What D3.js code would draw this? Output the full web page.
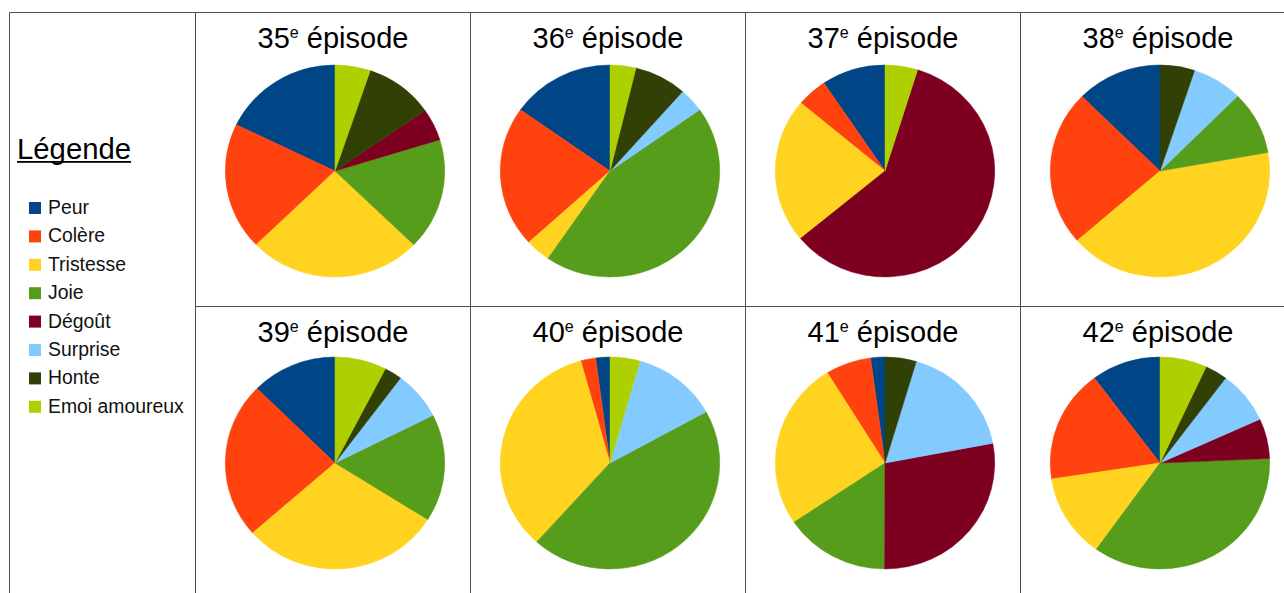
<!DOCTYPE html>
<html>
<head>
<meta charset="utf-8">
<script src="https://cdn.jsdelivr.net/npm/d3@7"></script>
<style>
  html, body { margin: 0; padding: 0; background: #fff; }
  svg { display: block; font-family: "Liberation Sans", Arial, sans-serif; }
</style>
</head>
<body>
<svg id="chart" width="1284" height="593"></svg>
<script>
// emotions, in legend order (slices run counter-clockwise from 12 o'clock in this order)
const emotions = ['Peur', 'Colère', 'Tristesse', 'Joie', 'Dégoût', 'Surprise', 'Honte', 'Emoi amoureux']
const colors = ['#004586', '#ff420e', '#ffd320', '#579d1c', '#7e0021', '#83caff', '#314004', '#aecf00']

const episodes = [35, 36, 37, 38, 39, 40, 41, 42]

// share of each emotion (%) per episode
const ep35 = [17.8, 19.4, 25.5, 17.0, 4.9, 0, 10.1, 5.2]
const ep36 = [15.2, 21.5, 3.7, 44.3, 0, 3.7, 7.7, 3.8]
const ep37 = [9.4, 4.5, 22.1, 0, 59.2, 0, 0, 4.8]
const ep38 = [12.6, 23.8, 41.4, 9.7, 0, 7.4, 5.1, 0]
const ep39 = [12.6, 23.9, 29.6, 16.4, 0, 7.4, 2.6, 7.6]
const ep40 = [2.1, 2.2, 34.1, 44.7, 0, 12.6, 0, 4.4]
const ep41 = [2.1, 6.7, 25.6, 15.5, 28.0, 17.4, 4.6, 0]
const ep42 = [10.2, 17.2, 12.7, 35.5, 6.1, 8.0, 3.3, 6.9]

const series = [ep35, ep36, ep37, ep38, ep39, ep40, ep41, ep42]

const svg = d3.select('#chart')

// table grid
const table = { left: 9.5, top: 12.5, legendW: 186, colW: 275, rowH: 294 }
const colX = d3.range(5).map(i => table.left + table.legendW + i * table.colW)
const rowY = [table.top, table.top + table.rowH]
const pieY = [171, 463]

const grid = svg.append('g')
    .attr('stroke', '#4d4d4d')
    .attr('stroke-width', 1)
    .attr('fill', 'none')

grid.append('line').attr('x1', table.left).attr('x2', 1290).attr('y1', table.top).attr('y2', table.top)
grid.append('line').attr('x1', table.left).attr('x2', table.left).attr('y1', table.top).attr('y2', 600)
colX.slice(0, 4).forEach(x => {
  grid.append('line').attr('x1', x).attr('x2', x).attr('y1', table.top).attr('y2', 600)
})
grid.append('line').attr('x1', colX[0]).attr('x2', 1290).attr('y1', rowY[1]).attr('y2', rowY[1])

// legend
const legend = svg.append('g')

const legendTitle = legend.append('text')
    .attr('x', 17)
    .attr('y', 159)
    .attr('font-size', 29.3)
    .attr('fill', '#000')
    .text('Légende')

let titleW = legendTitle.node().getComputedTextLength()
legend.append('rect')
    .attr('x', 17)
    .attr('y', 161)
    .attr('width', titleW)
    .attr('height', 1.8)
    .attr('fill', '#000')

let item = legend.selectAll('g.item')
    .data(emotions)
    .enter().append('g')
    .attr('class', 'item')
    .attr('transform', (d, i) => `translate(0, ${214 + i * 28.4})`)

item.append('rect')
    .attr('x', 29)
    .attr('y', -12)
    .attr('width', 12)
    .attr('height', 12)
    .attr('fill', (d, i) => colors[i])

item.append('text')
    .attr('x', 48)
    .attr('y', 0)
    .attr('font-size', 19.4)
    .attr('fill', '#111')
    .text(d => d)

// pies
const pie = d3.pie()
    .sort(null)
    .startAngle(0)
    .endAngle(-2 * Math.PI)

const radius = 106
const arc = d3.arc().innerRadius(0).outerRadius(radius)
const color = d3.scaleOrdinal().domain(emotions).range(colors)

episodes.forEach((ep, k) => {
  let col = k % 4
  let row = Math.floor(k / 4)
  let cx = (colX[col] + colX[col] + table.colW) / 2

  let title = svg.append('text')
      .attr('x', cx)
      .attr('y', rowY[row] + 35.5)
      .attr('text-anchor', 'middle')
      .attr('font-size', 29)
      .attr('fill', '#000')
  title.append('tspan').text(ep)
  title.append('tspan').attr('font-size', 16).attr('dy', -10).text('e')
  title.append('tspan').attr('dy', 10).text(' épisode')

  let data = emotions.map((e, i) => ({ emotion: e, value: series[k][i] }))
  let g = svg.append('g')
      .attr('transform', `translate(${cx + 2}, ${pieY[row]}) scale(1.035, 1)`)

  g.selectAll('path')
      .data(pie.value(d => d.value)(data).filter(d => d.data.value > 0))
      .enter().append('path')
      .attr('d', arc)
      .attr('fill', d => color(d.data.emotion))
      .attr('stroke', d => color(d.data.emotion))
      .attr('stroke-width', 0.5)
})
</script>
</body>
</html>
